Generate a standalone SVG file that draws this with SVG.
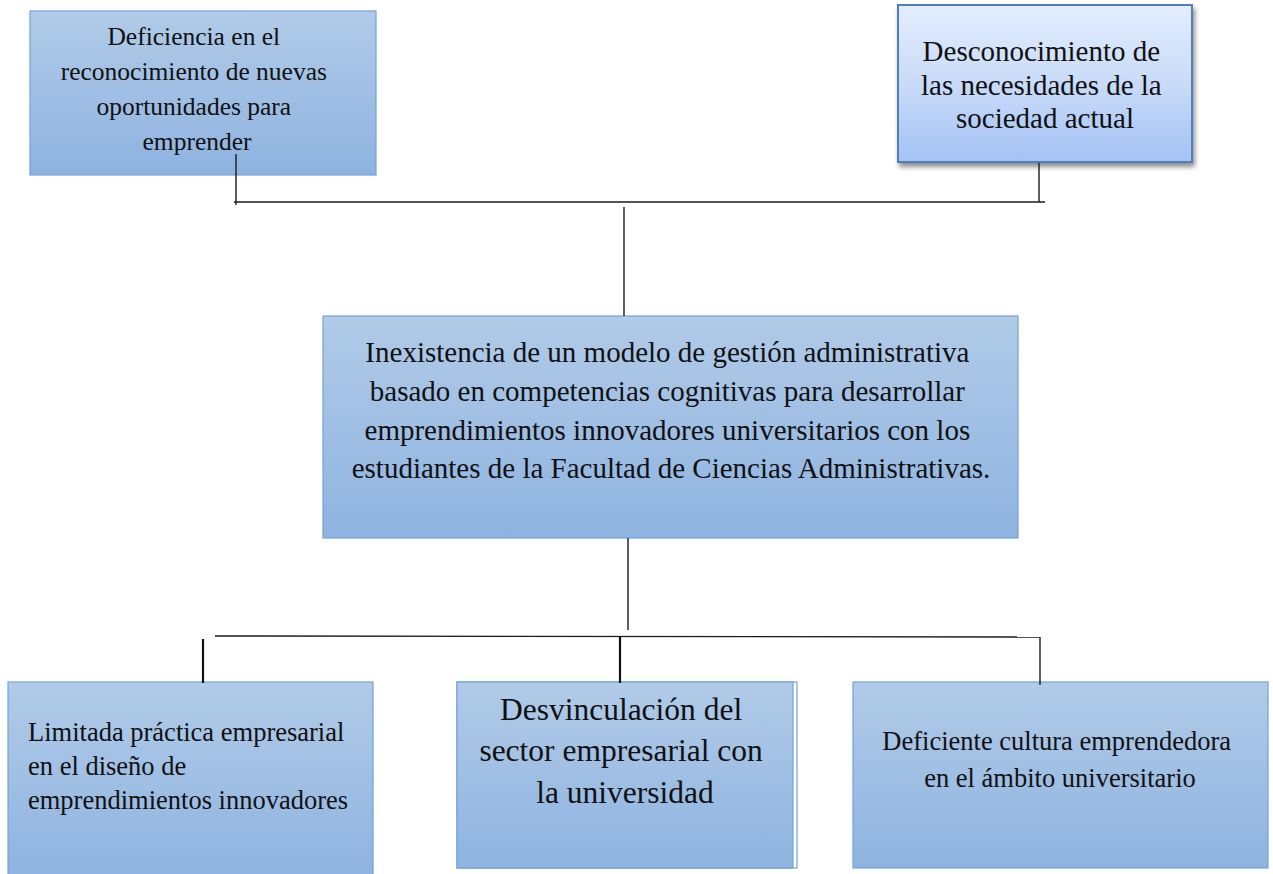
<svg xmlns="http://www.w3.org/2000/svg" width="1273" height="874" viewBox="0 0 1273 874">
  <defs>
    <linearGradient id="gBlue" x1="0" y1="0" x2="0" y2="1">
      <stop offset="0" stop-color="#b1cbe8"/>
      <stop offset="1" stop-color="#8eb3e0"/>
    </linearGradient>
    <linearGradient id="gLight" x1="0" y1="0" x2="0" y2="1">
      <stop offset="0" stop-color="#e3edfd"/>
      <stop offset="0.5" stop-color="#c9dbf9"/>
      <stop offset="1" stop-color="#a3c2f5"/>
    </linearGradient>
    <filter id="shadow" x="-10%" y="-10%" width="125%" height="130%">
      <feGaussianBlur in="SourceAlpha" stdDeviation="2.5"/>
      <feOffset dx="2" dy="4" result="b"/>
      <feComponentTransfer><feFuncA type="linear" slope="0.45"/></feComponentTransfer>
      <feMerge><feMergeNode/><feMergeNode in="SourceGraphic"/></feMerge>
    </filter>
    <style>
      .box { fill: url(#gBlue); stroke: #72a2db; stroke-width: 1.2; }
      .boxL { fill: url(#gLight); stroke: #4f7fbf; stroke-width: 2; }
      .t { font-family: "Liberation Serif", "Times New Roman", serif; fill: #111; }
      .c { text-anchor: middle; }
      .ln { stroke: #1a1a1a; fill: none; stroke-width: 1.4; }
      .lnb { stroke: #111; fill: none; stroke-width: 2.2; }
    </style>
  </defs>
  <rect width="1273" height="874" fill="#ffffff"/>

  <g id="node-deficiencia-reconocimiento">
    <rect class="box" x="30" y="11" width="346" height="164"/>
    <text class="t c" font-size="25.5">
      <tspan x="197" y="45">Deficiencia en el</tspan>
      <tspan x="197" y="80">reconocimiento de nuevas</tspan>
      <tspan x="197" y="115">oportunidades para</tspan>
      <tspan x="197" y="150">emprender</tspan>
    </text>
  </g>

  <g id="node-desconocimiento">
    <rect class="boxL" x="898" y="5" width="294" height="157" filter="url(#shadow)"/>
    <text class="t c" font-size="29">
      <tspan x="1045" y="61">Desconocimiento de</tspan>
      <tspan x="1045" y="95">las necesidades de la</tspan>
      <tspan x="1045" y="128">sociedad actual</tspan>
    </text>
  </g>

  <g id="node-problema-central">
    <rect class="box" x="323" y="316" width="695" height="222"/>
    <text class="t c" font-size="29">
      <tspan x="671" y="362">Inexistencia de un modelo de gestión administrativa</tspan>
      <tspan x="671" y="401">basado en competencias cognitivas para desarrollar</tspan>
      <tspan x="671" y="440">emprendimientos innovadores universitarios con los</tspan>
      <tspan x="671" y="478">estudiantes de la Facultad de Ciencias Administrativas.</tspan>
    </text>
  </g>

  <g id="node-limitada-practica">
    <rect class="box" x="8" y="682" width="365" height="196"/>
    <text class="t" font-size="26.5">
      <tspan x="28" y="741">Limitada práctica empresarial</tspan>
      <tspan x="28" y="775">en el diseño de</tspan>
      <tspan x="28" y="809">emprendimientos innovadores</tspan>
    </text>
  </g>

  <g id="node-desvinculacion">
    <rect x="457" y="682" width="340" height="186" fill="#ffffff" stroke="#72a2db" stroke-width="1.2"/>
    <rect x="457" y="682" width="336" height="186" fill="url(#gBlue)" stroke="#72a2db" stroke-width="1.2"/>
    <text class="t c" font-size="31.5">
      <tspan x="625" y="720">Desvinculación del</tspan>
      <tspan x="625" y="761">sector empresarial con</tspan>
      <tspan x="625" y="803">la universidad</tspan>
    </text>
  </g>

  <g id="node-deficiente-cultura">
    <rect class="box" x="853" y="682" width="415" height="186"/>
    <text class="t c" font-size="26.5">
      <tspan x="1060" y="750">Deficiente cultura emprendedora</tspan>
      <tspan x="1060" y="787">en el ámbito universitario</tspan>
    </text>
  </g>

  <g id="connectors">
    <line class="ln" x1="236" y1="154" x2="236" y2="205"/>
    <line class="ln" x1="234" y1="202" x2="1045" y2="202"/>
    <line class="ln" x1="1039" y1="163" x2="1039" y2="202"/>
    <line class="ln" x1="624" y1="207" x2="624" y2="316"/>
    <line class="ln" x1="628" y1="538" x2="628" y2="630"/>
    <line class="ln" x1="215" y1="636" x2="1040" y2="637"/>
    <line class="ln" x1="1040" y1="637" x2="1040" y2="685"/>
    <line class="lnb" x1="620" y1="636" x2="620" y2="683"/>
    <line class="lnb" x1="203" y1="639" x2="203" y2="683"/>
  </g>
</svg>
